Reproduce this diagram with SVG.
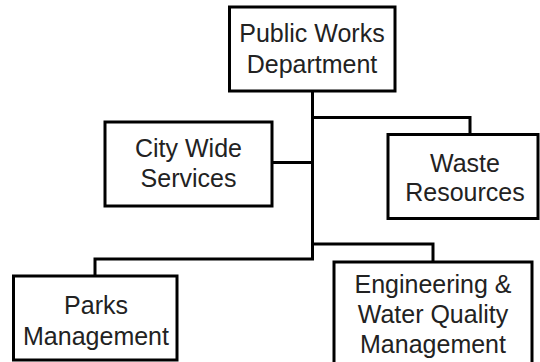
<svg xmlns="http://www.w3.org/2000/svg" width="540" height="362" viewBox="0 0 540 362">
<style>
.box{fill:#fff;stroke:#000;stroke-width:3}
.lbl{font-family:"Liberation Sans",Arial,sans-serif;font-size:25px;fill:#222;text-anchor:middle}
.con{fill:none;stroke:#000;stroke-width:3;stroke-linejoin:miter;stroke-linecap:square}
</style>
<rect width="540" height="362" fill="#fff"/>
<g id="connectors">
<path class="con" d="M312.5,91 V259 H95 V276"/>
<path class="con" d="M312.5,117.5 H470 V134"/>
<path class="con" d="M272,162.5 H312.5"/>
<path class="con" d="M312.5,244 H433 V262"/>
</g>
<g id="public-works">
<rect class="box" x="229.5" y="7" width="165.5" height="84"/>
<text class="lbl" x="312" y="42">Public Works</text>
<text class="lbl" x="312" y="73">Department</text>
</g>
<g id="city-wide">
<rect class="box" x="105" y="122" width="167" height="84"/>
<text class="lbl" x="188.5" y="157">City Wide</text>
<text class="lbl" x="188.5" y="187">Services</text>
</g>
<g id="waste">
<rect class="box" x="388" y="134.5" width="150" height="84"/>
<text class="lbl" x="465" y="172">Waste</text>
<text class="lbl" x="465" y="201">Resources</text>
</g>
<g id="parks">
<rect class="box" x="13.5" y="276" width="163.5" height="84"/>
<text class="lbl" x="96" y="314">Parks</text>
<text class="lbl" x="96" y="345">Management</text>
</g>
<g id="engineering">
<rect class="box" x="334" y="262" width="198" height="105"/>
<text class="lbl" x="433" y="293">Engineering &amp;</text>
<text class="lbl" x="433" y="323">Water Quality</text>
<text class="lbl" x="433" y="353">Management</text>
</g>
</svg>
